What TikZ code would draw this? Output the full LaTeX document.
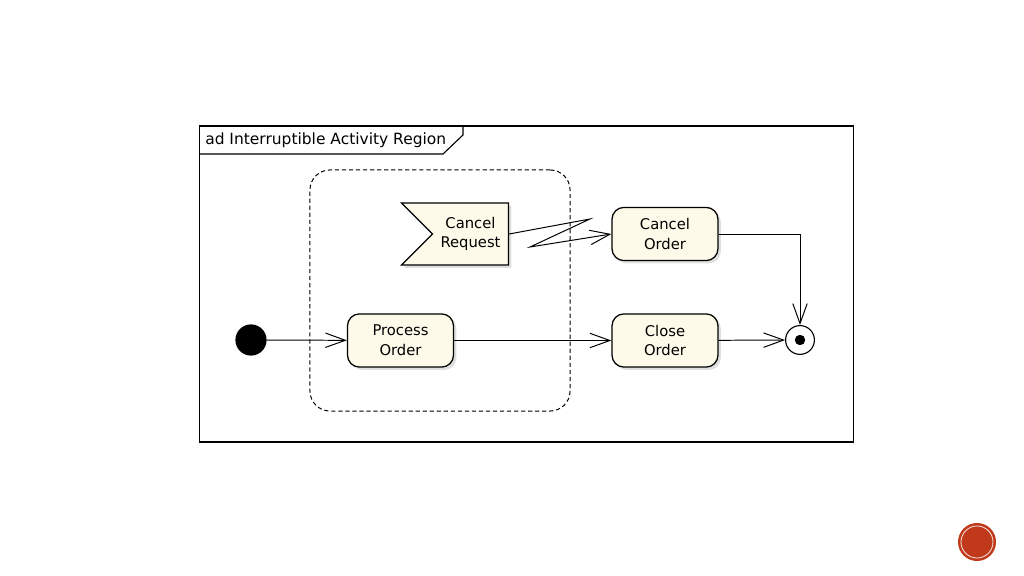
\documentclass[tikz,border=0pt]{standalone}
\usepackage{fontspec}
\setmainfont{DejaVu Sans}
\usetikzlibrary{arrows.meta,shapes.symbols,shadows}
\definecolor{actfill}{RGB}{253,250,233}
\definecolor{slidered}{RGB}{192,57,27}
\begin{document}
\begin{tikzpicture}[x=0.025cm, y=-0.025cm,
	font=\fontsize{10.5}{14}\selectfont,
	action/.style={shape=rectangle, rounded corners=0.3cm, draw, line width=0.9pt, fill=actfill, minimum width=2.65cm, minimum height=1.33cm, align=center, drop shadow={shadow xshift=2pt, shadow yshift=-2pt, fill=black!25}},
	flow/.style={line width=0.7pt, -{Straight Barb[length=5mm, width=3.6mm]}}]
	\useasboundingbox (0,0) rectangle (1024,576);
	% Frame, tab and interruptible region:
	\node[shape=rectangle, draw, line width=0.8pt, minimum width=16.325cm, minimum height=7.9cm] (frame) at (526.5,284){};
	\draw[line width=0.8pt] (200,154) -- (443,154) -- (463,135) -- (463,126);
	\node[anchor=west, inner sep=0pt, font=\fontsize{11}{14}\selectfont] (title) at (205,140){ad Interruptible Activity Region};
	\node[shape=rectangle, draw, line width=0.7pt, dash pattern={on 3pt off 2pt}, rounded corners=0.5cm, minimum width=6.5cm, minimum height=6.025cm] (region) at (440,290.5){};
	% Nodes:
	\node[shape=signal, signal from=west, signal to=nowhere, signal pointer angle=90, draw, line width=0.9pt, fill=actfill, minimum width=2.675cm, minimum height=1.55cm, drop shadow={shadow xshift=2pt, shadow yshift=-2pt, fill=black!25}, label={[align=center]center:Cancel\\Request}] (creq) at (470.5,234){};
	\node[action] (process) at (400.5,340.5){Process\\Order};
	\node[action] (cancel) at (665,234){Cancel\\Order};
	\node[action] (close) at (665,340.5){Close\\Order};
	\node[shape=circle, fill=black, minimum size=0.78cm, inner sep=0pt] (start) at (251,340){};
	\node[shape=circle, draw, line width=0.8pt, fill=white, minimum size=0.72cm, inner sep=0pt] (end) at (800,340){};
	\node[shape=circle, fill=black, minimum size=0.26cm, inner sep=0pt] (enddot) at (end){};
	% Wires:
	\draw[flow] (start) -- (process);
	\draw[flow] (process) -- (close);
	\draw[flow] (close) -- (end);
	\draw[flow] (cancel.east) -| (end.north);
	\coordinate (zigA) at (590,219);
	\coordinate (zigB) at (530,247);
	\draw[flow] (creq.east) -- (zigA) -- (zigB) -- (cancel.west);
	% Slide mark:
	\node[shape=circle, fill=slidered, minimum size=0.95cm, inner sep=0pt] (pagemark) at (977,542){};
	\node[shape=circle, draw=white!85!slidered, line width=0.6pt, minimum size=0.8cm, inner sep=0pt] (pagering) at (pagemark){};
\end{tikzpicture}
\end{document}
